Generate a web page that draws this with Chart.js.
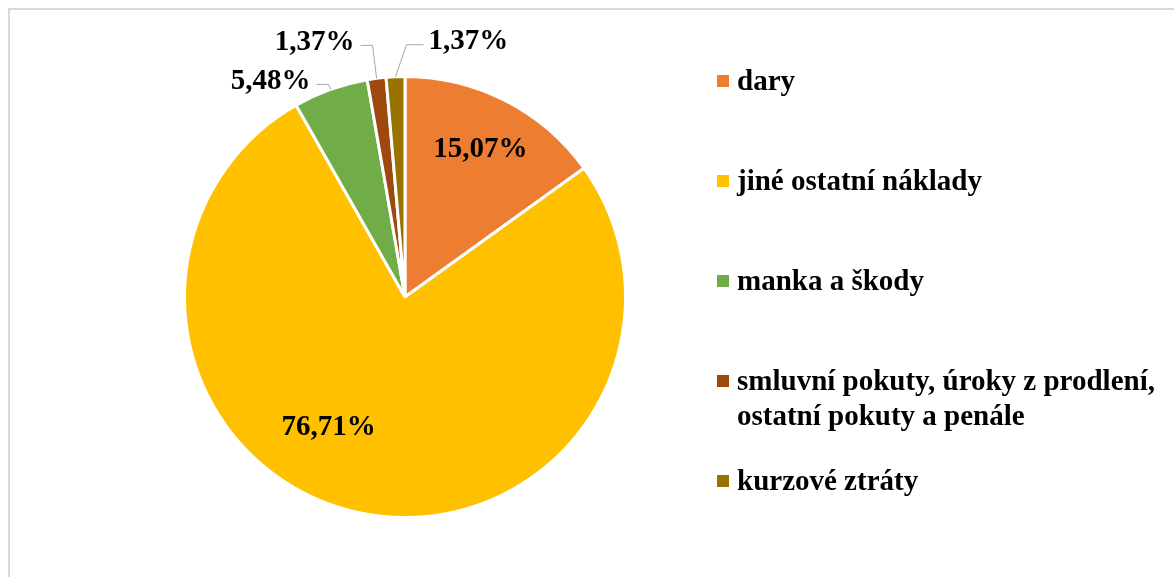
<!DOCTYPE html>
<html>
<head>
<meta charset="utf-8">
<script src="https://cdn.jsdelivr.net/npm/chart.js@4"></script>
<style>
  html, body { margin: 0; padding: 0; background: #fff; overflow: hidden; }
  body { width: 1174px; height: 577px; position: relative; }
  #frame { position: absolute; left: 8px; top: 8px; width: 1400px; height: 800px; border: 2px solid #d9d9d9; box-sizing: border-box; }
  #wrap { position: absolute; left: 0; top: 0; width: 810px; height: 577px; }
  #legend { position: absolute; left: 717px; top: 63px; font: bold 29px "Liberation Serif", "Times New Roman", serif; color: #000; }
  .item { height: 100px; line-height: 35px; white-space: pre-line; position: relative; padding-left: 20px; }
  .box { position: absolute; left: 0; top: 12px; width: 12px; height: 12px; }
</style>
</head>
<body>
<div id="frame"></div>
<div id="wrap"><canvas id="myChart"></canvas></div>
<div id="legend"></div>
<script>
const categories = ['dary', 'jiné ostatní náklady', 'manka a škody', 'smluvní pokuty, úroky z prodlení,\nostatní pokuty a penále', 'kurzové ztráty'];
const shares = [15.07, 76.71, 5.48, 1.37, 1.37];
const colors = ['#ED7D31', '#FFC000', '#70AD47', '#9E480E', '#997300'];

// where each percentage label goes
const labelStyle = [
    {inside: true, f: 0.75, da: 0},
    {inside: true, f: 0.685, da: 18},
    {elbow: [-2, -5], end: [-14, -5], align: 'right'},
    {elbow: [-4, -33], end: [-16, -33], align: 'right'},
    {elbow: [11, -32], end: [28, -32], align: 'left'}
];

const fmt = v => v.toFixed(2).replace('.', ',') + '%';

const pieLabels = {
    id: 'pieLabels',
    afterDatasetsDraw(chart) {
        const ctx = chart.ctx;
        const meta = chart.getDatasetMeta(0);
        ctx.save();
        ctx.font = 'bold 29px "Liberation Serif", "Times New Roman", serif';
        ctx.fillStyle = '#000';
        ctx.textBaseline = 'middle';
        meta.data.forEach((arc, i) => {
            const p = arc.getProps(['x', 'y', 'startAngle', 'endAngle', 'outerRadius'], true);
            const mid = (p.startAngle + p.endAngle) / 2;
            const s = labelStyle[i];
            const text = fmt(shares[i]);
            if (s.inside) {
                const a = mid + s.da * Math.PI / 180;
                const d = p.outerRadius * s.f;
                ctx.textAlign = 'center';
                ctx.fillText(text, p.x + Math.cos(a) * d, p.y + Math.sin(a) * d);
            } else {
                const ex = p.x + Math.cos(mid) * p.outerRadius;
                const ey = p.y + Math.sin(mid) * p.outerRadius;
                ctx.strokeStyle = '#a6a6a6';
                ctx.lineWidth = 1;
                ctx.beginPath();
                ctx.moveTo(ex, ey);
                ctx.lineTo(ex + s.elbow[0], ey + s.elbow[1]);
                ctx.lineTo(ex + s.end[0], ey + s.end[1]);
                ctx.stroke();
                ctx.textAlign = s.align;
                const gap = s.align === 'right' ? -6 : 5;
                ctx.fillText(text, ex + s.end[0] + gap, ey + s.end[1] - 3);
            }
        });
        ctx.restore();
    }
};

new Chart(document.getElementById('myChart'), {
    type: 'pie',
    data: {
        labels: categories,
        datasets: [{
            data: shares,
            backgroundColor: colors,
            borderColor: '#fff',
            borderWidth: 3
        }]
    },
    options: {
        responsive: true,
        maintainAspectRatio: false,
        animation: false,
        layout: { padding: { top: 75, bottom: 58, left: 75, right: 75 } },
        plugins: {
            legend: { display: false },
            tooltip: { enabled: false }
        }
    },
    plugins: [pieLabels]
});

const legend = document.getElementById('legend');
categories.forEach((c, i) => {
    const item = document.createElement('div');
    item.className = 'item';
    const box = document.createElement('span');
    box.className = 'box';
    box.style.background = colors[i];
    item.appendChild(box);
    item.appendChild(document.createTextNode(c));
    legend.appendChild(item);
});
</script>
</body>
</html>
